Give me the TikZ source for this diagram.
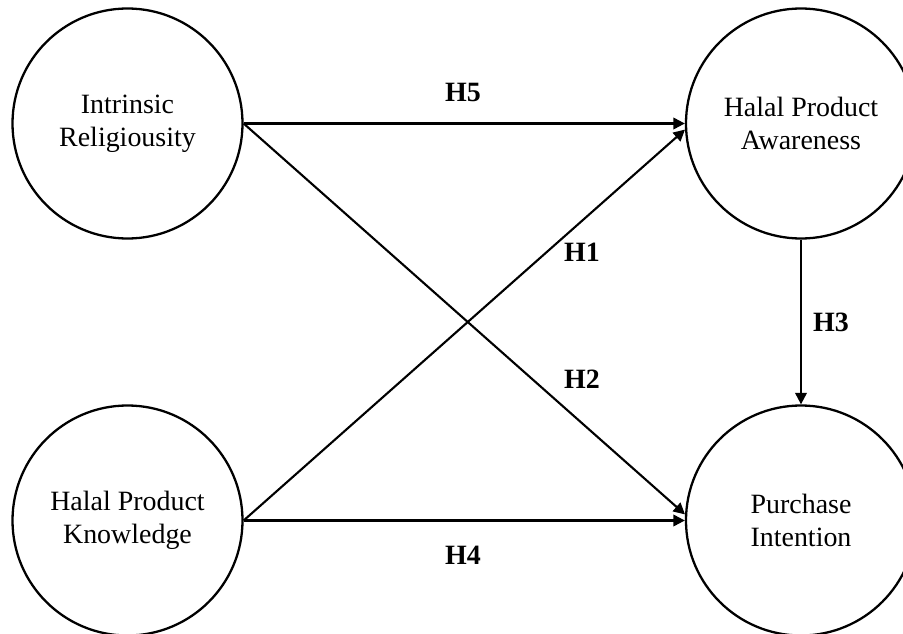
\documentclass[tikz,border=0pt]{standalone}
\usepackage{fontspec}
\setmainfont{Liberation Serif}
\usepackage{tikz}
\usetikzlibrary{positioning, arrows.meta}

\tikzset{
	construct/.style={draw, circle, line width=1.3pt, minimum size=4.6cm, inner sep=0pt, align=center, font=\fontsize{15.9}{18.8}\selectfont},
	path/.style={line width=1.2pt, -{Triangle[length=6.5pt, width=6.5pt]}},
	hyp/.style={font=\fontsize{15.9}{18.8}\selectfont\bfseries}
}

\begin{document}
\begin{tikzpicture}
				\useasboundingbox (0,0) rectangle (18.06,12.66);
				
				\node[construct] (ir) at (2.55,10.19) {Intrinsic\\Religiousity};
				\node[construct] (hpa) at (16.02,10.19) {Halal Product\\Awareness};
				\node[construct] (hpk) at (2.55,2.25) {Halal Product\\Knowledge};
				\node[construct] (pi) at (16.02,2.25) {Purchase\\Intention};
				
				\draw[path] (ir.east) -- (hpa.west);
				\draw[path] (hpk.east) -- (hpa.183);
				\draw[path] (ir.east) -- (pi.177);
				\draw[path] (hpa.south) -- (pi.north);
				\draw[path] (hpk.east) -- (pi.west);
				
				\node[hyp] (h5) at (9.26,10.82) {H5};
				\node[hyp] (h1) at (11.64,7.62) {H1};
				\node[hyp] (h2) at (11.64,5.08) {H2};
				\node[hyp] (h3) at (16.62,6.21) {H3};
				\node[hyp] (h4) at (9.26,1.56) {H4};
			\end{tikzpicture}
\end{document}
